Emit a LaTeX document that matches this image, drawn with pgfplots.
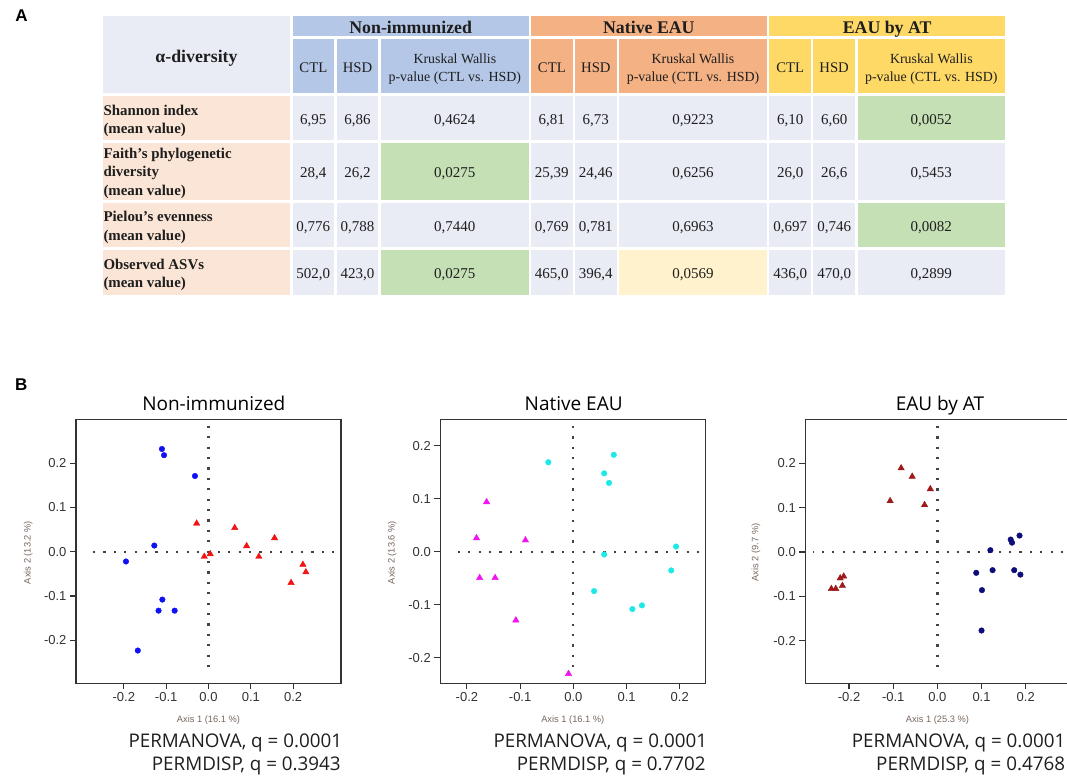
\documentclass[border=0pt]{standalone}
\usepackage{fontspec}
\setmainfont{Liberation Serif}
\newfontfamily\arial{Liberation Sans}
\newfontfamily\osans{Open Sans}
\usepackage{pgfplots}
\pgfplotsset{compat=1.18}
\definecolor{hdrblue}{HTML}{B4C7E7}
\definecolor{hdrsalmon}{HTML}{F4B183}
\definecolor{hdryellow}{HTML}{FFD966}
\definecolor{bodygray}{HTML}{E9EBF5}
\definecolor{peach}{HTML}{FBE5D6}
\definecolor{kwgreen}{HTML}{C5E0B4}
\definecolor{ltyellow}{HTML}{FFF2CC}
\definecolor{axc}{HTML}{333333}
\definecolor{tickc}{HTML}{333333}
\definecolor{labc}{HTML}{76665E}
\definecolor{dotc}{HTML}{444444}
\definecolor{tabtxt}{HTML}{1E1E1E}
\definecolor{cblue}{HTML}{1010F5}
\definecolor{cred}{HTML}{F01414}
\definecolor{ccyan}{HTML}{1EE8E8}
\definecolor{cmag}{HTML}{F014F0}
\definecolor{cdred}{HTML}{9E1A1A}
\definecolor{cnavy}{HTML}{0C0C7A}
\newcommand{\fs}[2]{\fontsize{#1}{#2}\selectfont}
\newcommand{\cell}[5]{\fill[#1] (#2,#3) rectangle (#4,#5);}
\newcommand{\dat}[3]{\node[anchor=base,font=\fs{15}{16},text=tabtxt] at (#1,#2) {#3};}
\pgfplotsset{
  pcoa/.style={scale only axis, width=265pt, height=264pt, anchor=south west,
    tick align=outside, xtick pos=left, ytick pos=left, major tick length=6pt,
    tick style={line width=1.1pt, color=axc},
    axis line style={line width=1.3pt, color=axc},
    ticklabel style={font=\arial\fs{13}{13}, text=tickc},
    xtick={-0.2,-0.1,0,0.1,0.2}, xticklabels={-0.2,-0.1,0.0,0.1,0.2},
    ytick={-0.2,-0.1,0,0.1,0.2}, yticklabels={-0.2,-0.1,0.0,0.1,0.2}},
  dotl/.style={dotc, line width=2.3pt, dash pattern=on 2.2pt off 8.2pt, dash phase=1.1pt, mark=none},
  circ/.style={only marks, mark=*, mark size=2.8pt},
  tri/.style={only marks, mark=triangle*, mark size=3.7pt}
}
\begin{document}
\begin{tikzpicture}
% ---------------- panel A : table ----------------
\begin{scope}[x=1pt,y=-1pt]
\node[font=\arial\bfseries\fs{17}{17}, anchor=base west] at (11.8,22) {A};
\cell{bodygray}{103}{16}{290}{92.7}
\cell{hdrblue}{292.7}{16}{528.7}{36}
\cell{hdrsalmon}{531}{16}{766.7}{36}
\cell{hdryellow}{769.3}{16}{1005}{36}
\cell{hdrblue}{292.7}{39}{334}{92.7}
\cell{hdrblue}{336.7}{39}{378.3}{92.7}
\cell{hdrblue}{381}{39}{528.7}{92.7}
\cell{hdrsalmon}{531}{39}{572.7}{92.7}
\cell{hdrsalmon}{575}{39}{616.7}{92.7}
\cell{hdrsalmon}{619.3}{39}{766.7}{92.7}
\cell{hdryellow}{769.3}{39}{811}{92.7}
\cell{hdryellow}{813.3}{39}{855}{92.7}
\cell{hdryellow}{857.7}{39}{1005}{92.7}
\foreach \ya/\yb in {95.7/140, 143.3/199.5, 202.5/247.3, 250/294.5}{
  \cell{peach}{103}{\ya}{290}{\yb}
  \foreach \xa/\xb in {292.7/334, 336.7/378.3, 381/528.7, 531/572.7, 575/616.7, 619.3/766.7, 769.3/811, 813.3/855, 857.7/1005}{
    \cell{bodygray}{\xa}{\ya}{\xb}{\yb}
  }
}
\cell{kwgreen}{381}{143.3}{528.7}{199.5}
\cell{kwgreen}{381}{250}{528.7}{294.5}
\cell{kwgreen}{857.7}{95.7}{1005}{140}
\cell{kwgreen}{857.7}{202.5}{1005}{247.3}
\cell{ltyellow}{619.3}{250}{766.7}{294.5}
% header text
\node[anchor=base, font=\bfseries\fs{17.8}{18}, text=tabtxt] at (196.5,62.5) {α-diversity};
\node[anchor=base, font=\bfseries\fs{17.8}{18}, text=tabtxt] at (410.7,33.3) {Non-immunized};
\node[anchor=base, font=\bfseries\fs{17.8}{18}, text=tabtxt] at (648.85,33.3) {Native EAU};
\node[anchor=base, font=\bfseries\fs{17.8}{18}, text=tabtxt] at (887.15,33.3) {EAU by AT};
\foreach \xc/\xh/\xk in {313.35/357.5/454.85, 551.85/595.85/693, 790.15/834.15/931.35}{
  \node[anchor=base, font=\fs{14.7}{16}, text=tabtxt] at (\xc,72.7) {CTL};
  \node[anchor=base, font=\fs{14.7}{16}, text=tabtxt] at (\xh,72.7) {HSD};
  \node[anchor=base, font=\fs{13.9}{15}, text=tabtxt] at (\xk,63.3) {Kruskal Wallis};
  \node[anchor=base, font=\fs{13.9}{15}, text=tabtxt] at (\xk,81.7) {p-value (CTL vs. HSD)};
}
% row labels
\begin{scope}[every node/.style={anchor=base west, font=\bfseries\fs{14.9}{16}, text=tabtxt, inner sep=0pt}]
\node at (103.3,115) {Shannon index};
\node at (103.3,133.3) {(mean value)};
\node at (103.3,158.4) {Faith’s phylogenetic};
\node at (103.3,176.7) {diversity};
\node at (103.3,195) {(mean value)};
\node at (103.3,221.7) {Pielou’s evenness};
\node at (103.3,240) {(mean value)};
\node at (103.3,269.3) {Observed ASVs};
\node at (103.3,287.7) {(mean value)};
\end{scope}
% data: Non-immunized
\dat{313.35}{124.2}{6,95}\dat{357.5}{124.2}{6,86}\dat{454.85}{124.2}{0,4624}
\dat{313.35}{177.7}{28,4}\dat{357.5}{177.7}{26,2}\dat{454.85}{177.7}{0,0275}
\dat{313.35}{231.2}{0,776}\dat{357.5}{231.2}{0,788}\dat{454.85}{231.2}{0,7440}
\dat{313.35}{278.6}{502,0}\dat{357.5}{278.6}{423,0}\dat{454.85}{278.6}{0,0275}
% Native EAU
\dat{551.85}{124.2}{6,81}\dat{595.85}{124.2}{6,73}\dat{693}{124.2}{0,9223}
\dat{551.85}{177.7}{25,39}\dat{595.85}{177.7}{24,46}\dat{693}{177.7}{0,6256}
\dat{551.85}{231.2}{0,769}\dat{595.85}{231.2}{0,781}\dat{693}{231.2}{0,6963}
\dat{551.85}{278.6}{465,0}\dat{595.85}{278.6}{396,4}\dat{693}{278.6}{0,0569}
% EAU by AT
\dat{790.15}{124.2}{6,10}\dat{834.15}{124.2}{6,60}\dat{931.35}{124.2}{0,0052}
\dat{790.15}{177.7}{26,0}\dat{834.15}{177.7}{26,6}\dat{931.35}{177.7}{0,5453}
\dat{790.15}{231.2}{0,697}\dat{834.15}{231.2}{0,746}\dat{931.35}{231.2}{0,0082}
\dat{790.15}{278.6}{436,0}\dat{834.15}{278.6}{470,0}\dat{931.35}{278.6}{0,2899}
% ---------------- panel B labels ----------------
\node[font=\arial\bfseries\fs{17}{17}, anchor=base west] at (11.7,390.5) {B};
\begin{scope}[every node/.style={font=\osans\fs{19}{19}, anchor=base}]
\node at (213.8,410.7) {Non-immunized};
\node at (573.7,410.7) {Native EAU};
\node at (940,410.7) {EAU by AT};
\end{scope}
\begin{scope}[every node/.style={font=\arial\fs{9.3}{9.3}, text=labc}]
\node at (208.5,720) {Axis 1 (16.1 \%)};
\node at (572.8,720) {Axis 1 (16.1 \%)};
\node at (937.5,720) {Axis 1 (25.3 \%)};
\node[rotate=90] at (28.3,552.5) {Axis 2 (13.2 \%)};
\node[rotate=90] at (392.3,552.5) {Axis 2 (13.6 \%)};
\node[rotate=90] at (756,552.5) {Axis 2 (9.7 \%)};
\end{scope}
\begin{scope}[every node/.style={font=\osans\fs{18.8}{19}, anchor=base west, text=tabtxt, inner sep=0pt}]
\node at (128.3,747.7) {PERMANOVA, q = 0.0001};
\node at (151.7,770.7) {PERMDISP, q = 0.3943};
\node at (493.3,747.7) {PERMANOVA, q = 0.0001};
\node at (516.7,770.7) {PERMDISP, q = 0.7702};
\node at (851.7,747.7) {PERMANOVA, q = 0.0001};
\node at (876,770.7) {PERMDISP, q = 0.4768};
\end{scope}
\end{scope}
% ---------------- plot 1 ----------------
\begin{axis}[pcoa, at={(76pt,-683.3pt)}, xmin=-0.313, xmax=0.313, ymin=-0.297, ymax=0.299]
\addplot[dotl] coordinates {(0,0) (0,0.292)};
\addplot[dotl] coordinates {(0,0) (0,-0.274)};
\addplot[dotl] coordinates {(0,0) (-0.291,0)};
\addplot[dotl] coordinates {(0,0) (0.31,0)};
\addplot[circ, color=cblue] coordinates {
(-0.110,0.232) (-0.105,0.218) (-0.032,0.171) (-0.128,0.014) (-0.195,-0.022)
(-0.109,-0.108) (-0.118,-0.133) (-0.080,-0.133) (-0.167,-0.223)};
\addplot[tri, color=cred] coordinates {
(-0.028,0.064) (-0.010,-0.011) (0.004,-0.005) (0.062,0.054) (0.090,0.013)
(0.119,-0.011) (0.156,0.031) (0.195,-0.070) (0.223,-0.029) (0.230,-0.046)};
\end{axis}
% ---------------- plot 2 ----------------
\begin{axis}[pcoa, at={(440.3pt,-683.3pt)}, xmin=-0.25, xmax=0.248, ymin=-0.248, ymax=0.25]
\addplot[dotl] coordinates {(0,0) (0,0.244)};
\addplot[dotl] coordinates {(0,0) (0,-0.229)};
\addplot[dotl] coordinates {(0,0) (-0.231,0)};
\addplot[dotl] coordinates {(0,0) (0.245,0)};
\addplot[circ, color=ccyan] coordinates {
(-0.047,0.169) (0.076,0.183) (0.058,0.148) (0.067,0.130) (0.193,0.010)
(0.058,-0.005) (0.184,-0.035) (0.039,-0.074) (0.111,-0.108) (0.129,-0.101)};
\addplot[tri, color=cmag] coordinates {
(-0.163,0.094) (-0.182,0.026) (-0.090,0.022) (-0.176,-0.049) (-0.147,-0.049)
(-0.108,-0.129) (-0.009,-0.230)};
\end{axis}
% ---------------- plot 3 ----------------
\begin{axis}[pcoa, at={(805.3pt,-683.3pt)}, xmin=-0.299, xmax=0.301, ymin=-0.296, ymax=0.299]
\addplot[dotl] coordinates {(0,0) (0,0.292)};
\addplot[dotl] coordinates {(0,0) (0,-0.274)};
\addplot[dotl] coordinates {(0,0) (-0.281,0)};
\addplot[dotl] coordinates {(0,0) (0.3,0)};
\addplot[circ, color=cnavy] coordinates {
(0.186,0.037) (0.166,0.028) (0.169,0.021) (0.120,0.004) (0.088,-0.047)
(0.125,-0.041) (0.174,-0.041) (0.188,-0.051) (0.101,-0.086) (0.100,-0.177)};
\addplot[tri, color=cdred] coordinates {
(-0.082,0.189) (-0.057,0.170) (-0.016,0.142) (-0.107,0.115) (-0.029,0.106)
(-0.212,-0.055) (-0.220,-0.059) (-0.215,-0.076) (-0.240,-0.083) (-0.230,-0.083)};
\end{axis}
\pgfresetboundingbox
\path[use as bounding box] (0,0) rectangle (1067pt,-781pt);
\end{tikzpicture}
\end{document}
